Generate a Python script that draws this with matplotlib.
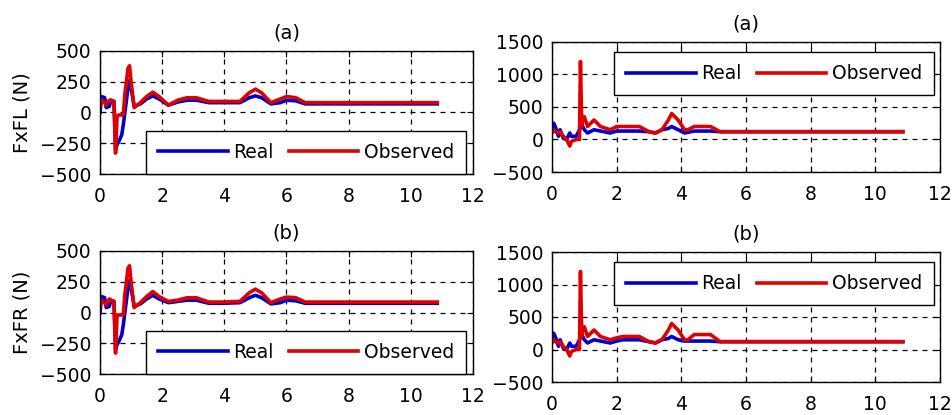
import numpy as np
import matplotlib
matplotlib.use("Agg")
import matplotlib.pyplot as plt

plt.rcParams['font.family'] = ['DejaVu Sans']

# ---- data ----
# left column: FxFL / FxFR
t_left = [0, 0.05, 0.15, 0.2, 0.3, 0.35, 0.45, 0.5, 0.55, 0.6, 0.7, 0.75, 0.8, 0.85, 0.9, 0.95,
          1.0, 1.1, 1.3, 1.5, 1.7, 1.9, 2.2, 2.5, 2.8, 3.1, 3.5, 4.0, 4.5, 4.8, 5.0, 5.2, 5.5,
          5.8, 6.0, 6.3, 6.6, 7.0, 8.0, 9.0, 10.0, 10.85]
fl_real = [0, 130, 120, 40, 50, 100, 90, -300, -260, -240, -180, -100, 0, 100, 200, 260,
           200, 50, 70, 110, 135, 110, 60, 85, 100, 100, 80, 80, 80, 120, 135, 120, 70,
           80, 100, 95, 70, 70, 70, 70, 70, 70]
fl_obs = [50, 100, 80, 60, 100, 100, 90, -330, -30, -20, -20, -20, 150, 250, 360, 380,
          250, 40, 80, 130, 165, 130, 60, 100, 120, 120, 90, 90, 90, 160, 190, 160, 80,
          110, 130, 120, 80, 80, 80, 80, 80, 80]
fr_real = [0, 130, 120, 40, 50, 100, 90, -300, -260, -240, -180, -100, 0, 100, 200, 260,
           200, 50, 70, 110, 140, 110, 80, 90, 100, 100, 75, 75, 80, 120, 140, 120, 70,
           80, 100, 95, 75, 75, 75, 75, 75, 75]
fr_obs = [50, 100, 80, 60, 110, 100, 90, -330, -20, -20, -20, -20, 150, 250, 360, 380,
          250, 40, 80, 130, 170, 130, 90, 100, 120, 120, 85, 85, 90, 160, 190, 160, 80,
          110, 125, 120, 85, 85, 85, 85, 85, 85]

# right column
t_right = [0, 0.05, 0.1, 0.2, 0.25, 0.35, 0.45, 0.55, 0.6, 0.75, 0.85, 0.88, 0.92, 0.95, 1.0,
           1.1, 1.3, 1.5, 1.8, 2.0, 2.2, 2.7, 3.0, 3.2, 3.4, 3.6, 3.7, 3.9, 4.1, 4.2, 4.4,
           4.9, 5.2, 6.0, 8.0, 10.0, 10.85]
a_real = [150, 250, 200, 50, 150, 20, 0, 100, 50, 50, 150, 200, 200, 200, 150,
          100, 150, 130, 100, 130, 130, 130, 120, 100, 150, 170, 200, 150, 100, 110, 130,
          130, 120, 120, 120, 120, 120]
a_obs = [100, 150, 120, 100, 120, 50, 0, -100, -30, 0, 0, 1200, 200, 300, 350,
         200, 300, 200, 150, 200, 200, 200, 120, 100, 150, 300, 400, 300, 150, 150, 200,
         200, 120, 120, 120, 120, 120]
b_real = [150, 250, 200, 50, 150, 20, 0, 100, 50, 50, 150, 200, 200, 200, 150,
          100, 150, 130, 100, 130, 150, 150, 120, 100, 150, 170, 200, 150, 130, 130, 130,
          130, 120, 120, 120, 120, 120]
b_obs = [100, 150, 120, 100, 120, 50, 0, -100, -30, 0, 0, 1200, 200, 300, 350,
         200, 300, 200, 150, 180, 200, 200, 120, 100, 150, 300, 400, 300, 150, 150, 230,
         230, 120, 120, 120, 120, 120]

titles = ['(a)', '(a)', '(b)', '(b)']
ylabels = ['FxFL (N)', '', 'FxFR (N)', '']
x_ticks = [0, 2, 4, 6, 8, 10, 12]
left_yticks = [-500, -250, 0, 250, 500]
right_yticks = [-500, 0, 500, 1000, 1500]

fig = plt.figure(figsize=(9.53, 4.15), dpi=100)

W, H = 953.0, 415.0
# pixel boxes: left, top, right, bottom
boxes = [(100, 51, 473, 174), (552, 42, 940, 172),
         (100, 251, 473, 374), (552, 252, 940, 382)]

panels = [
    (t_left, fl_real, fl_obs, left_yticks, 'lower right', (1 - 7 / 373, 0)),
    (t_right, a_real, a_obs, right_yticks, 'upper right', (1 - 6 / 388, 1 - 10 / 130)),
    (t_left, fr_real, fr_obs, left_yticks, 'lower right', (1 - 7 / 373, 0)),
    (t_right, b_real, b_obs, right_yticks, 'upper right', (1 - 6 / 388, 1 - 10 / 130)),
]

for i, (box, panel) in enumerate(zip(boxes, panels)):
    l, tp, r, b = box
    ax = fig.add_axes([l / W, (H - b) / H, (r - l) / W, (b - tp) / H])
    t, real, obs, yt, loc, anchor = panel
    ax.plot(t, real, color='#0000cc', lw=2.6, label='Real')
    ax.plot(t, obs, color='#e00000', lw=2.6, label='Observed')
    ax.set_xlim(0, 12)
    ax.set_ylim(yt[0], yt[-1])
    ax.set_xticks(x_ticks)
    ax.set_yticks(yt)
    ax.grid(True, color='black', linestyle=(0, (4, 4)), linewidth=0.9)
    ax.tick_params(direction='in', labelsize=13.5, length=4, top=True, right=True, pad=6)
    ax.tick_params(axis='x', pad=9)
    for s in ax.spines.values():
        s.set_linewidth(1.0)
    ax.set_title(titles[i], fontsize=14, pad=9)
    if ylabels[i]:
        ax.set_ylabel(ylabels[i], fontsize=14, labelpad=6)
    leg = ax.legend(loc=loc, bbox_to_anchor=anchor, ncol=2, fontsize=13.5, frameon=True,
                    fancybox=False, handlelength=3.7, borderaxespad=0, columnspacing=0.8,
                    handletextpad=0.3, borderpad=0.65, framealpha=1)
    leg.get_frame().set_edgecolor('black')
    leg.get_frame().set_linewidth(1.0)

fig.savefig('out.png', dpi=100)
